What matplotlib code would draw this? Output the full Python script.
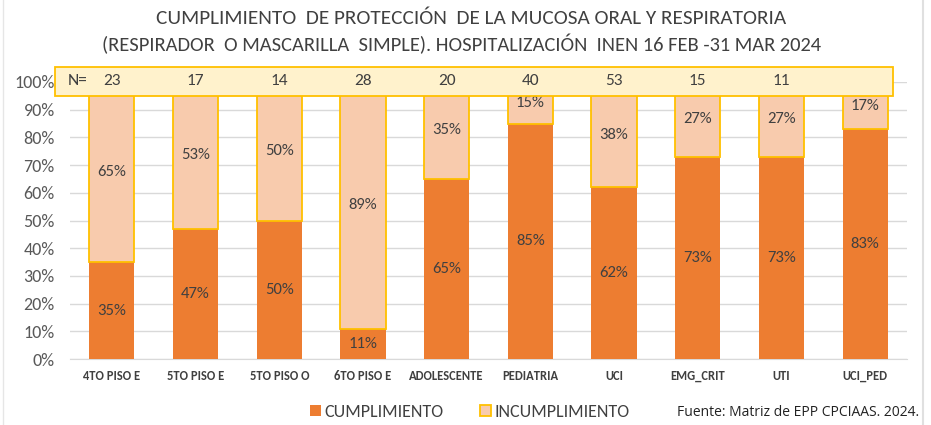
import matplotlib
matplotlib.use("Agg")
import matplotlib.pyplot as plt
from matplotlib.patches import Rectangle
from matplotlib.lines import Line2D
import numpy as np

categories = ["4TO PISO E", "5TO PISO E", "5TO PISO O", "6TO PISO E", "ADOLESCENTE",
              "PEDIATRIA", "UCI", "EMG_CRIT", "UTI", "UCI_PED"]
cumplimiento = [35, 47, 50, 11, 65, 85, 62, 73, 73, 83]
incumplimiento = [65, 53, 50, 89, 35, 15, 38, 27, 27, 17]
n_values = ["23", "17", "14", "28", "20", "40", "53", "15", "11", ""]
yticks = [0, 10, 20, 30, 40, 50, 60, 70, 80, 90, 100]

FONT = ["Carlito", "DejaVu Sans"]
ORANGE = "#ED7D31"
PEACH = "#F8CBAD"
GOLD = "#FFC000"
TXT = "#404040"

W, H = 931, 425
fig = plt.figure(figsize=(W / 100, H / 100), dpi=100)
fig.patch.set_facecolor("white")

def fx(px):
    return px / W

def fy(py):
    return 1 - py / H

ax = fig.add_axes([fx(70), fy(359), fx(907) - fx(70), fy(82) - fy(359)])
x = np.arange(len(categories))
bw = 0.54
ax.bar(x, cumplimiento, bw, color=ORANGE, edgecolor="none", zorder=3)
ax.bar(x, incumplimiento, bw, bottom=cumplimiento, color=PEACH, edgecolor=GOLD,
       linewidth=1.3, zorder=3)

for i in range(len(categories)):
    c = cumplimiento[i]
    u = incumplimiento[i]
    ax.text(x[i], c / 2, f"{c}%", ha="center", va="center", fontsize=12,
            family=FONT, color=TXT, zorder=5)
    ax.text(x[i], c + u / 2, f"{u}%", ha="center", va="center", fontsize=12,
            family=FONT, color=TXT, zorder=5)

ax.set_xlim(-0.5, len(categories) - 0.5)
ax.set_ylim(0, 100)
ax.set_yticks(yticks)
ax.set_yticklabels([f"{t}%" for t in yticks], family=FONT, fontsize=13, color="#595959")
ax.set_xticks(x)
ax.set_xticklabels(categories, family=FONT, fontsize=9, color="#404040", fontweight="bold")
ax.tick_params(axis="both", length=0)
ax.tick_params(axis="y", pad=11)
ax.tick_params(axis="x", pad=8)
ax.grid(axis="y", color="#D9D9D9", linewidth=1, zorder=0)
for s in ["top", "right", "left"]:
    ax.spines[s].set_visible(False)
ax.spines["bottom"].set_color("#D9D9D9")

# N banner
banner = Rectangle((fx(55), fy(96)), fx(893) - fx(55), fy(67) - fy(96),
                   transform=fig.transFigure, facecolor="#FFF2CC", edgecolor=GOLD,
                   linewidth=1.3, zorder=10)
fig.add_artist(banner)
ybanner = fy(81)
fig.text(fx(78), ybanner, "N=", ha="center", va="center", fontsize=12.5, family=FONT,
         color=TXT, zorder=11)
inv = fig.transFigure.inverted()
for i, n in enumerate(n_values):
    xd = ax.transData.transform((x[i], 0))[0]
    xf = inv.transform((xd, 0))[0]
    fig.text(xf, ybanner, n, ha="center", va="center", fontsize=12.5,
             family=FONT, color=TXT, zorder=11)

# Title (fit to reference widths)
renderer = fig.canvas.get_renderer()

def fitted_text(xp, yp, s, target_w, **kw):
    t = fig.text(fx(xp), fy(yp), s, ha="center", va="center", fontsize=14, **kw)
    w = t.get_window_extent(renderer).width
    t.set_fontsize(14 * target_w / w)
    return t

fitted_text(471, 18, "CUMPLIMIENTO  DE PROTECCIÓN  DE LA MUCOSA ORAL Y RESPIRATORIA",
            632, family=FONT, color=TXT)
fitted_text(462, 44, "(RESPIRADOR  O MASCARILLA  SIMPLE). HOSPITALIZACIÓN  INEN 16 FEB -31 MAR 2024",
            723, family=FONT, color=TXT)

# Legend
handles = [Rectangle((0, 0), 1, 1, facecolor=ORANGE, edgecolor="none"),
           Rectangle((0, 0), 1, 1, facecolor=PEACH, edgecolor=GOLD, linewidth=1.3)]
leg = fig.legend(handles, ["CUMPLIMIENTO", "INCUMPLIMIENTO"], loc="center",
                 bbox_to_anchor=(fx(470), fy(412)), ncol=2, frameon=False,
                 prop={"family": FONT, "size": 13}, handlelength=0.6,
                 handleheight=0.6, handletextpad=0.2, columnspacing=2.0)
for t in leg.get_texts():
    t.set_color(TXT)

fig.text(fx(919), fy(413), "Fuente: Matriz de EPP CPCIAAS. 2024.", ha="right", va="center",
         fontsize=10, family="Open Sans", color="#222222")

# Light frame lines at left and right edges
fig.add_artist(Line2D([fx(3), fx(3)], [0, 1], transform=fig.transFigure, color="#E6E6E6", lw=1))
fig.add_artist(Line2D([fx(923), fx(923)], [0, 1], transform=fig.transFigure, color="#E0E0E0", lw=1.5))

fig.savefig("out.png", dpi=100, facecolor="white")
